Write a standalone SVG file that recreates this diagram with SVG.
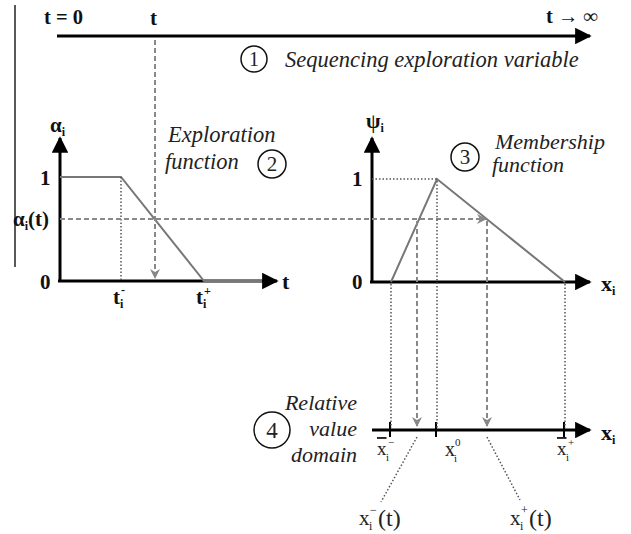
<svg xmlns="http://www.w3.org/2000/svg" width="631" height="534" viewBox="0 0 631 534">
<defs>
<marker id="ah" viewBox="0 0 10 10" refX="9" refY="5" markerWidth="5.5" markerHeight="5.5" markerUnits="strokeWidth" orient="auto">
<path d="M0,0 L10,5 L0,10 z" fill="#000"/>
</marker>
<marker id="gh" viewBox="0 0 10 10" refX="9" refY="5" markerWidth="5" markerHeight="5" markerUnits="strokeWidth" orient="auto">
<path d="M0,0 L10,5 L0,10 L3,5 z" fill="#888"/>
</marker>
<style>
.ax{stroke:#000;stroke-width:3;fill:none;marker-end:url(#ah)}
.fn{stroke:#777;stroke-width:2;fill:none}
.da{stroke:#888;stroke-width:2;stroke-dasharray:5,3;fill:none}
.dt{stroke:#555;stroke-width:1.5;stroke-dasharray:1.5,2;fill:none}
.tk{stroke:#000;stroke-width:2}
.b{font-family:"Liberation Serif","Times New Roman","DejaVu Serif",serif;font-weight:bold;fill:#111}
.r{font-family:"Liberation Serif","Times New Roman","DejaVu Serif",serif;fill:#222}
.it{font-family:"Liberation Serif","Times New Roman","DejaVu Serif",serif;font-style:italic;fill:#222}
.c{fill:none;stroke:#111;stroke-width:1.5}
</style>
</defs>
<line x1="15" y1="5" x2="15" y2="267" stroke="#222" stroke-width="1.5"/>

<g id="timeline">
<line class="ax" x1="57" y1="36" x2="590" y2="36"/>
<text class="b" x="44" y="24" font-size="20.5">t = 0</text>
<text class="b" x="150" y="25" font-size="21">t</text>
<text class="b" x="546" y="23" font-size="20.5">t → ∞</text>
</g>

<g id="label1">
<circle class="c" cx="254" cy="59" r="13"/>
<text class="r" x="254" y="66" font-size="20" text-anchor="middle">1</text>
<text class="it" x="285" y="67" font-size="22.5">Sequencing exploration variable</text>
</g>

<g id="exploration-chart">
<line class="ax" x1="60" y1="282" x2="60" y2="138"/>
<line class="ax" x1="58" y1="281" x2="277" y2="281"/>
<polyline class="fn" points="60,177 121,177 204,281 262,281"/>
<line class="dt" x1="121" y1="177" x2="121" y2="280"/>
<text class="b" x="50" y="132" font-size="21">α<tspan font-size="12" dy="4">i</tspan></text>
<text class="b" x="40" y="185" font-size="21">1</text>
<text class="b" x="13" y="226" font-size="21">α<tspan font-size="12" dy="4">i</tspan><tspan dy="-4">(t)</tspan></text>
<text class="b" x="40" y="289" font-size="21">0</text>
<text class="b" x="282" y="289" font-size="22">t</text>
<text class="b" x="113" y="304" font-size="21">t</text>
<text class="b" x="120" y="308" font-size="12">i</text>
<text class="b" x="121" y="294" font-size="12">-</text>
<text class="b" x="196" y="304" font-size="21">t</text>
<text class="b" x="203" y="308" font-size="12">i</text>
<text class="b" x="204" y="295" font-size="12">+</text>
</g>

<g id="label2">
<text class="it" x="168" y="142" font-size="22.5">Exploration</text>
<text class="it" x="165" y="169" font-size="22.5">function</text>
<circle class="c" cx="272" cy="164" r="14"/>
<text class="r" x="272" y="171" font-size="21" text-anchor="middle">2</text>
</g>

<g id="membership-chart">
<line class="ax" x1="372" y1="283" x2="372" y2="138"/>
<line class="ax" x1="370" y1="282" x2="590" y2="282"/>
<polyline class="fn" points="391,282 437,179 565,282"/>
<line class="dt" x1="372" y1="179" x2="437" y2="179"/>
<text class="b" x="366" y="128" font-size="21">ψ<tspan font-size="12" dy="4">i</tspan></text>
<text class="b" x="352" y="186" font-size="21">1</text>
<text class="b" x="352" y="289" font-size="21">0</text>
<text class="b" x="601" y="291" font-size="22">x<tspan font-size="12" dy="4">i</tspan></text>
</g>

<g id="label3">
<circle class="c" cx="465" cy="157" r="14"/>
<text class="r" x="465" y="164" font-size="21" text-anchor="middle">3</text>
<text class="it" x="495" y="149" font-size="22">Membership</text>
<text class="it" x="492" y="172" font-size="22">function</text>
</g>

<g id="value-domain">
<line class="ax" x1="372" y1="430" x2="590" y2="430"/>
<line class="tk" x1="390" y1="422" x2="390" y2="437"/>
<line class="tk" x1="436" y1="422" x2="436" y2="437"/>
<line class="tk" x1="564" y1="422" x2="564" y2="437"/>
<text class="b" x="601" y="440" font-size="22">x<tspan font-size="12" dy="4">i</tspan></text>
<text class="r" x="377" y="455" font-size="19" text-decoration="overline">x</text>
<text class="r" x="386" y="461" font-size="11">i</text>
<text class="r" x="388" y="446" font-size="11">−</text>
<text class="r" x="445" y="456" font-size="20">x</text>
<text class="r" x="454" y="462" font-size="11">i</text>
<text class="r" x="455" y="446" font-size="11">0</text>
<text class="r" x="557" y="455" font-size="19" text-decoration="overline">x</text>
<text class="r" x="566" y="461" font-size="11">i</text>
<text class="r" x="568" y="446" font-size="11">+</text>
<text class="r" x="359" y="525" font-size="21">x</text>
<text class="r" x="369" y="530" font-size="12">i</text>
<text class="r" x="370" y="514" font-size="12">−</text>
<text class="r" x="378" y="526" font-size="24">(t)</text>
<text class="r" x="510" y="525" font-size="21">x</text>
<text class="r" x="520" y="530" font-size="12">i</text>
<text class="r" x="521" y="514" font-size="12">+</text>
<text class="r" x="529" y="526" font-size="24">(t)</text>
</g>

<g id="label4">
<circle class="c" cx="272" cy="430" r="18"/>
<text class="r" x="272" y="438" font-size="23" text-anchor="middle">4</text>
<text class="it" x="357" y="410" font-size="22" text-anchor="end">Relative</text>
<text class="it" x="357" y="436" font-size="22" text-anchor="end">value</text>
<text class="it" x="357" y="462" font-size="22" text-anchor="end">domain</text>
</g>

<g id="connectors">
<line class="da" x1="155" y1="40" x2="155" y2="278" marker-end="url(#gh)"/>
<line class="da" x1="60" y1="219" x2="486" y2="219" marker-end="url(#gh)"/>
<line class="da" x1="417" y1="221" x2="417" y2="426" marker-end="url(#gh)"/>
<line class="da" x1="487" y1="221" x2="487" y2="426" marker-end="url(#gh)"/>
<line class="dt" x1="391" y1="284" x2="391" y2="428"/>
<line class="dt" x1="437" y1="181" x2="437" y2="428"/>
<line class="dt" x1="565" y1="284" x2="565" y2="428"/>
<line class="dt" x1="417" y1="437" x2="381" y2="502"/>
<line class="dt" x1="487" y1="437" x2="520" y2="500"/>
</g>
</svg>
